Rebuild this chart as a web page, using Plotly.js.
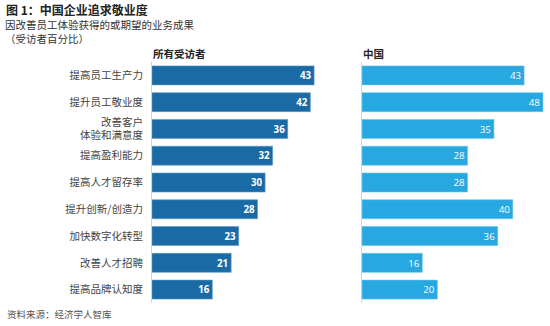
<!DOCTYPE html>
<html><head><meta charset="utf-8">
<script src="https://cdn.plot.ly/plotly-3.0.1.min.js"></script>
<style>html,body{margin:0;padding:0;background:#fff}</style>
</head><body>
<div id="chart" style="width:550px;height:326px"></div>
<script>
const categories = ["提高员工生产力","提升员工敬业度","改善客户<br>体验和满意度","提高盈利能力","提高人才留存率","提升创新/创造力","加快数字化转型","改善人才招聘","提高品牌认知度"];
const allRespondents = [43,42,36,32,30,28,23,21,16];
const china = [43,48,35,28,28,40,36,16,20];
const titleText = "图 1：中国企业追求敬业度";
const subtitleLines = ["因改善员工体验获得的或期望的业务成果","（受访者百分比）"];
const panelTitles = ["所有受访者","中国"];
const sourceText = "资料来源：经济学人智库";

const W = 550, H = 326, mL = 152, mR = 5, mT = 62, mB = 22.7;
const plotH = H - mT - mB, plotW = W - mL - mR;
const py = p => (H - mB - p) / plotH;
const px = p => (p - mL) / plotW;
const CJK = '"Noto Sans CJK SC", "Noto Sans", sans-serif';

const traces = [
  {type:'bar', orientation:'h', y:categories, x:allRespondents, xaxis:'x', yaxis:'y',
   marker:{color:'#1a6ba5', line:{color:'#5d9ac8', width:0.6}}, text:allRespondents.map(String),
   textposition:'inside', insidetextanchor:'end', textangle:0,
   textfont:{color:'#ffffff', size:10.5, family:'"Open Sans", sans-serif', weight:'bold'},
   hoverinfo:'none', cliponaxis:false},
  {type:'bar', orientation:'h', y:categories, x:china, xaxis:'x2', yaxis:'y2',
   marker:{color:'#27a8e0', line:{color:'#6cc4ec', width:0.6}}, text:china.map(String),
   textposition:'inside', insidetextanchor:'end', textangle:0,
   textfont:{color:'#ffffff', size:10.5, family:'"Open Sans", sans-serif'},
   hoverinfo:'none', cliponaxis:false}
];

const layout = {
  width:W, height:H, margin:{l:mL, r:mR, t:mT, b:mB},
  paper_bgcolor:'#fff', plot_bgcolor:'#fff', showlegend:false, bargap:0.29,
  font:{family:CJK, color:'#333'},
  xaxis:{domain:[0, px(340)], range:[0, 188/3.77], showgrid:false, zeroline:false, showticklabels:false, fixedrange:true},
  xaxis2:{domain:[px(362), 1], range:[0, 183/3.77], showgrid:false, zeroline:false, showticklabels:false, fixedrange:true},
  yaxis:{anchor:'x', autorange:'reversed', showline:true, linecolor:'#d4d4d4', linewidth:1, showgrid:false,
         ticks:'', ticklabelstandoff:6, tickfont:{family:CJK, size:10.5, color:'#444'}},
  yaxis2:{anchor:'x2', matches:'y', autorange:'reversed', showline:true, linecolor:'#d4d4d4', linewidth:1, showgrid:false,
          ticks:'', showticklabels:false},
  annotations:[
    {text:titleText, xref:'paper', yref:'paper', x:px(5), y:py(9), xanchor:'left', yanchor:'middle', showarrow:false, borderpad:0,
     font:{family:CJK, size:12, color:'#222', weight:'bold'}},
    {text:subtitleLines[0], xref:'paper', yref:'paper', x:px(4), y:py(24.5), xanchor:'left', yanchor:'middle', showarrow:false, borderpad:0,
     font:{family:CJK, size:10.5, color:'#333'}},
    {text:subtitleLines[1], xref:'paper', yref:'paper', x:px(4), y:py(38), xanchor:'left', yanchor:'middle', showarrow:false, borderpad:0,
     font:{family:CJK, size:10.5, color:'#333'}},
    {text:panelTitles[0], xref:'paper', yref:'paper', x:px(151), y:py(53), xanchor:'left', yanchor:'middle', showarrow:false,
     font:{family:CJK, size:10.5, color:'#222', weight:'bold'}},
    {text:panelTitles[1], xref:'paper', yref:'paper', x:px(361), y:py(53), xanchor:'left', yanchor:'middle', showarrow:false,
     font:{family:CJK, size:10.5, color:'#222', weight:'bold'}},
    {text:sourceText, xref:'paper', yref:'paper', x:px(5), y:py(314), xanchor:'left', yanchor:'middle', showarrow:false,
     font:{family:CJK, size:9.5, color:'#555'}}
  ]
};
Plotly.newPlot('chart', traces, layout, {staticPlot:true, displayModeBar:false});
</script>
</body></html>
